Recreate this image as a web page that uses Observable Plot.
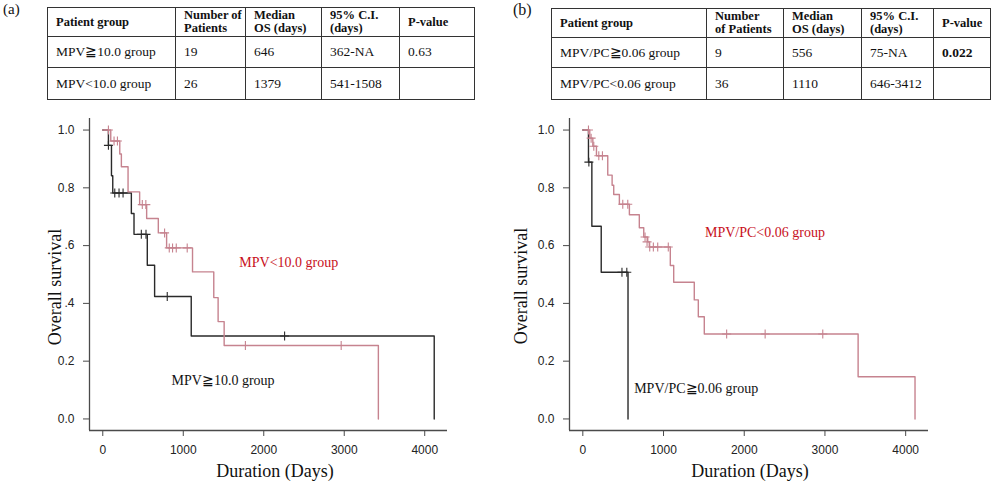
<!DOCTYPE html>
<html><head><meta charset="utf-8">
<script src="https://cdn.jsdelivr.net/npm/d3@7"></script>
<script src="https://cdn.jsdelivr.net/npm/@observablehq/plot@0.6"></script>
<style>
body{margin:0;background:#fff;}
#root{position:relative;width:996px;height:484px;overflow:hidden;background:#fff;font-family:"Liberation Serif","DejaVu Serif",serif;color:#111;}
.panel{position:absolute;font-size:15px;line-height:15px;}
table.km{position:absolute;border-collapse:collapse;table-layout:fixed;font-family:"Liberation Serif","DejaVu Serif",serif;font-size:13.5px;}
table.km td{border:1px solid #333;padding:0 0 0 8px;vertical-align:middle;line-height:14px;white-space:pre-line;overflow:hidden;}
table.km tr.head td{font-weight:bold;font-size:12.5px;line-height:13px;}
.plotbox{position:absolute;}
.ylab{position:absolute;font-size:18px;transform:translate(-50%,-50%) rotate(-90deg);white-space:nowrap;}
.xlab{position:absolute;font-size:18px;transform:translate(-50%,-50%);white-space:nowrap;}
</style>
</head><body>
<div id="root"></div>
<script>
// ---------- table data ----------
const headersA = ["Patient group", "Number of\nPatients", "Median\nOS (days)", "95% C.I.\n(days)", "P-value"];
const groupsA = ["MPV\u226710.0 group", "MPV<10.0 group"];
const patientsA = [19, 26];
const medianA = [646, 1379];
const ciA = ["362-NA", "541-1508"];
const pA = ["0.63", ""];

const headersB = ["Patient group", "Number\nof Patients", "Median\nOS (days)", "95% C.I.\n(days)", "P-value"];
const groupsB = ["MPV/PC\u22670.06 group", "MPV/PC<0.06 group"];
const patientsB = [9, 36];
const medianB = [556, 1110];
const ciB = ["75-NA", "646-3412"];
const pB = ["0.022", ""];

// ---------- survival curves (days, survival) ----------
// (a) MPV >= 10.0 (black)
const aHighT = [0, 70, 108, 124, 355, 388, 553, 644, 1099, 4118];
const aHighS = [1, 0.947, 0.842, 0.782, 0.711, 0.639, 0.532, 0.424, 0.287, 0];
const aHighCensT = [70, 149, 202, 252, 479, 537, 801, 2259];
const aHighCensS = [0.947, 0.782, 0.782, 0.782, 0.639, 0.639, 0.424, 0.287];
// (a) MPV < 10.0 (red)
const aLowT = [0, 99, 211, 231, 314, 458, 545, 690, 793, 1115, 1379, 1433, 1508, 3424];
const aLowS = [1, 0.962, 0.917, 0.873, 0.786, 0.742, 0.694, 0.644, 0.592, 0.509, 0.420, 0.337, 0.254, 0];
const aLowCensT = [70, 140, 182, 491, 535, 768, 826, 867, 913, 1049, 1772, 2962];
const aLowCensS = [1, 0.962, 0.962, 0.742, 0.742, 0.644, 0.592, 0.592, 0.592, 0.592, 0.254, 0.254];

// (b) MPV/PC >= 0.06 (black)
const bHighT = [0, 70, 112, 228, 560];
const bHighS = [1, 0.889, 0.667, 0.508, 0];
const bHighCensT = [75, 485, 545];
const bHighCensS = [0.889, 0.508, 0.508];
// (b) MPV/PC < 0.06 (red)
const bLowT = [0, 86, 124, 169, 309, 363, 383, 453, 577, 700, 755, 804, 824, 1084, 1126, 1381, 1431, 1505, 3411, 4116];
const bLowS = [1, 0.972, 0.944, 0.911, 0.844, 0.809, 0.777, 0.743, 0.707, 0.662, 0.630, 0.613, 0.595, 0.531, 0.473, 0.412, 0.354, 0.294, 0.146, 0];
const bLowCensT = [70, 103, 136, 198, 243, 495, 557, 771, 796, 829, 874, 928, 1059, 1782, 2259, 2973];
const bLowCensS = [1, 0.972, 0.944, 0.911, 0.911, 0.743, 0.743, 0.630, 0.613, 0.595, 0.595, 0.595, 0.595, 0.294, 0.294, 0.294];

// ---------- axes ----------
const xTicks = [0, 1000, 2000, 3000, 4000];
const yTicks = [0, 0.2, 0.4, 0.6, 0.8, 1.0];
const yTickLabelsA = ["0.0", "0.2", ".4", ".6", "0.8", "1.0"];
const yTickLabelsB = ["0.0", "0.2", "0.4", "0.6", "0.8", "1.0"];
const xTitle = "Duration (Days)";
const yTitle = "Overall survival";

// ---------- annotations (data coords) ----------
const annA = [{label: "MPV<10.0 group", t: 1697, s: 0.543, color: "#c8101c"}, {label: "MPV\u226710.0 group", t: 855, s: 0.133, color: "#111"}];
const annB = [{label: "MPV/PC<0.06 group", t: 1514, s: 0.646, color: "#c8101c"}, {label: "MPV/PC\u22670.06 group", t: 636, s: 0.104, color: "#111"}];

const BLACK = "#2a2a2a", RED = "#c6838f";
const zip = (T, S) => T.map((t, i) => ({t, s: S[i]}));

const root = document.getElementById("root");

function panelLabel(txt, left, top, size) {
  const d = document.createElement("div");
  d.className = "panel"; d.textContent = txt;
  d.style.left = left + "px"; d.style.top = top + "px"; d.style.fontSize = size + "px";
  root.appendChild(d);
}
function makeTable(headers, groups, pts, med, ci, p, left, top, colW, rowH, boldP) {
  const t = document.createElement("table");
  t.className = "km"; t.style.left = left + "px"; t.style.top = top + "px";
  t.style.width = colW.reduce((a, b) => a + b, 0) + "px";
  const cg = document.createElement("colgroup");
  colW.forEach(w => { const c = document.createElement("col"); c.style.width = w + "px"; cg.appendChild(c); });
  t.appendChild(cg);
  const rows = [headers, ...groups.map((g, i) => [g, String(pts[i]), String(med[i]), ci[i], p[i]])];
  rows.forEach((r, ri) => {
    const tr = document.createElement("tr");
    if (ri === 0) tr.className = "head";
    tr.style.height = rowH[ri] + "px";
    r.forEach((c, ci2) => {
      const td = document.createElement("td"); td.textContent = c;
      if (ri > 0 && ci2 === 4 && boldP) td.style.fontWeight = "bold";
      tr.appendChild(td);
    });
    t.appendChild(tr);
  });
  root.appendChild(t);
}

function kmPlot(o) {
  const marks = [
    Plot.ruleX([o.xDomain[0]], {stroke: "#4a4a4a", strokeWidth: 1.3}),
    Plot.ruleY([o.yDomain[0]], {stroke: "#4a4a4a", strokeWidth: 1.3}),
    Plot.axisX({ticks: xTicks, tickFormat: d => String(d), tickSize: 6, tickPadding: 9, stroke: "#4a4a4a", fill: "#222", label: null}),
    Plot.axisY({ticks: yTicks, tickFormat: (d, i) => o.yLabels[i], tickSize: 6, tickPadding: 9, stroke: "#4a4a4a", fill: "#222", label: null}),
    Plot.line(o.black, {x: "t", y: "s", curve: "step-after", stroke: BLACK, strokeWidth: 1.4}),
    Plot.line(o.red, {x: "t", y: "s", curve: "step-after", stroke: RED, strokeWidth: 1.4}),
    Plot.dot(o.blackCens, {x: "t", y: "s", symbol: "plus", r: 3, stroke: BLACK, strokeWidth: 1.1}),
    Plot.dot(o.redCens, {x: "t", y: "s", symbol: "plus", r: 3, stroke: RED, strokeWidth: 1.1}),
    ...o.ann.map(a => Plot.text([a], {x: "t", y: "s", text: "label", textAnchor: "start", fill: a.color, fontSize: 14, fontFamily: "Liberation Serif, DejaVu Serif, serif"}))
  ];
  return Plot.plot({
    width: o.width, height: 379,
    marginLeft: o.marginLeft, marginRight: o.marginRight, marginTop: 13, marginBottom: 54,
    x: {domain: o.xDomain, label: null},
    y: {domain: o.yDomain, label: null},
    style: {background: "transparent", fontFamily: "Liberation Sans, Arial, sans-serif", fontSize: "12px", color: "#222", overflow: "visible"},
    marks
  });
}

function placePlot(svg, left, top) {
  const d = document.createElement("div");
  d.className = "plotbox"; d.style.left = left + "px"; d.style.top = top + "px";
  d.appendChild(svg); root.appendChild(d);
}
function axisTitle(cls, txt, cx, cy) {
  const d = document.createElement("div");
  d.className = cls; d.textContent = txt;
  d.style.left = cx + "px"; d.style.top = cy + "px";
  root.appendChild(d);
}

// panel (a)
panelLabel("(a)", 3, 2, 15);
makeTable(headersA, groupsA, patientsA, medianA, ciA, pA, 47, 7, [128, 70, 76, 78, 75], [29, 31, 32], false);
placePlot(kmPlot({
  width: 480, marginLeft: 89, marginRight: 33,
  xDomain: [-165, 4283], yDomain: [-0.04, 1.04], yLabels: yTickLabelsA,
  black: zip(aHighT, aHighS), red: zip(aLowT, aLowS),
  blackCens: zip(aHighCensT, aHighCensS), redCens: zip(aLowCensT, aLowCensS),
  ann: annA
}), 0, 105);
axisTitle("ylab", yTitle, 55, 287);
axisTitle("xlab", xTitle, 275, 471);

// panel (b)
panelLabel("(b)", 513, 2, 16);
makeTable(headersB, groupsB, patientsB, medianB, ciB, pB, 551, 8, [155, 77, 78, 72, 57], [29, 30, 32], true);
placePlot(kmPlot({
  width: 506, marginLeft: 79, marginRight: 68,
  xDomain: [-165, 4283], yDomain: [-0.04, 1.04], yLabels: yTickLabelsB,
  black: zip(bHighT, bHighS), red: zip(bLowT, bLowS),
  blackCens: zip(bHighCensT, bHighCensS), redCens: zip(bLowCensT, bLowCensS),
  ann: annB
}), 490, 105);
axisTitle("ylab", yTitle, 521, 286);
axisTitle("xlab", xTitle, 750, 471);
</script>
</body></html>
